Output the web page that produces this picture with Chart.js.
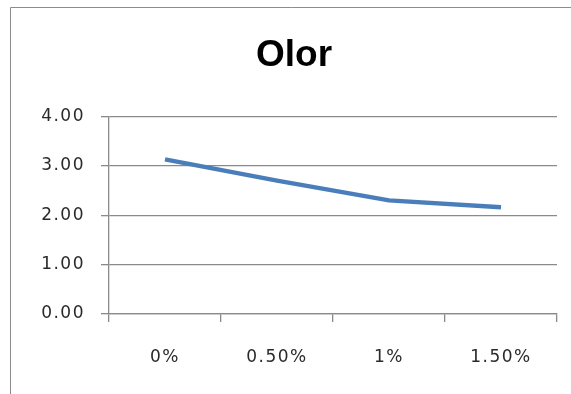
<!DOCTYPE html>
<html>
<head>
<meta charset="utf-8">
<title>Olor</title>
<script src="https://cdn.jsdelivr.net/npm/chart.js@4/dist/chart.umd.min.js"></script>
<style>
  html, body { margin: 0; padding: 0; background: #fff; }
  #olorChart { display: block; }
</style>
</head>
<body>
<canvas id="olorChart" width="571" height="394"></canvas>
<script>
// concentration levels and average odour score
const concentrations = ['0%', '0.50%', '1%', '1.50%'];
const olorScores = [3.13, 2.70, 2.30, 2.16];
const yTicks = [0, 1, 2, 3, 4];

const gridColor = '#8a8a8a';

// spaced-out axis text plus the grey frame around the chart object
const framePlugin = {
    id: 'frame',
    afterLayout(chart) {
        // title keeps normal spacing
        const tb = chart.titleBlock;
        if (tb && !tb._plainSpacing) {
            const draw = tb.draw.bind(tb);
            tb.draw = function (area) {
                const c = this.ctx;
                const prev = c.letterSpacing;
                c.letterSpacing = '0px';
                draw(area);
                c.letterSpacing = prev;
            };
            tb._plainSpacing = true;
        }
    },
    beforeDraw(chart) {
        const ctx = chart.ctx;
        ctx.letterSpacing = '1.5px';
        ctx.save();
        ctx.strokeStyle = '#8c8c8c';
        ctx.lineWidth = 1;
        ctx.beginPath();
        ctx.moveTo(10.5, chart.height + 5);
        ctx.lineTo(10.5, 7.5);
        ctx.lineTo(chart.width + 5, 7.5);
        ctx.stroke();
        ctx.restore();
    }
};

const ctx = document.getElementById('olorChart').getContext('2d');
new Chart(ctx, {
    type: 'line',
    data: {
        labels: concentrations,
        datasets: [{
            label: 'Olor',
            data: olorScores,
            borderColor: '#4a7ebb',
            borderWidth: 4.5,
            pointRadius: 0,
            fill: false,
            tension: 0
        }]
    },
    options: {
        responsive: false,
        animation: false,
        layout: { padding: { left: 31, right: 14, top: 0, bottom: 0 } },
        plugins: {
            legend: { display: false },
            tooltip: { enabled: false },
            title: {
                display: true,
                text: 'Olor',
                color: '#000',
                font: { family: 'Liberation Sans', size: 37, weight: 'bold', lineHeight: 1.2 },
                padding: { top: 34, bottom: 38 }
            }
        },
        scales: {
            x: {
                offset: true,
                grid: {
                    offset: true,
                    drawOnChartArea: false,
                    drawTicks: true,
                    tickLength: 8,
                    color: gridColor,
                    lineWidth: 1.3
                },
                border: { display: true, color: gridColor, width: 1.3 },
                ticks: {
                    color: '#2a2a2a',
                    padding: 25,
                    font: { family: 'DejaVu Sans', size: 17 },
                    maxRotation: 0
                },
                afterFit(scale) { scale.height = 80; }
            },
            y: {
                min: 0,
                max: 4,
                afterBuildTicks(scale) {
                    scale.ticks = yTicks.map(v => ({ value: v }));
                },
                grid: {
                    color: gridColor,
                    lineWidth: 1.3,
                    tickLength: 8
                },
                border: { display: true, color: gridColor, width: 1.3 },
                ticks: {
                    color: '#2a2a2a',
                    padding: 16,
                    font: { family: 'DejaVu Sans', size: 17 },
                    callback: v => Number(v).toFixed(2)
                },
                afterFit(scale) { scale.width = 78; }
            }
        }
    },
    plugins: [framePlugin]
});
</script>
</body>
</html>
